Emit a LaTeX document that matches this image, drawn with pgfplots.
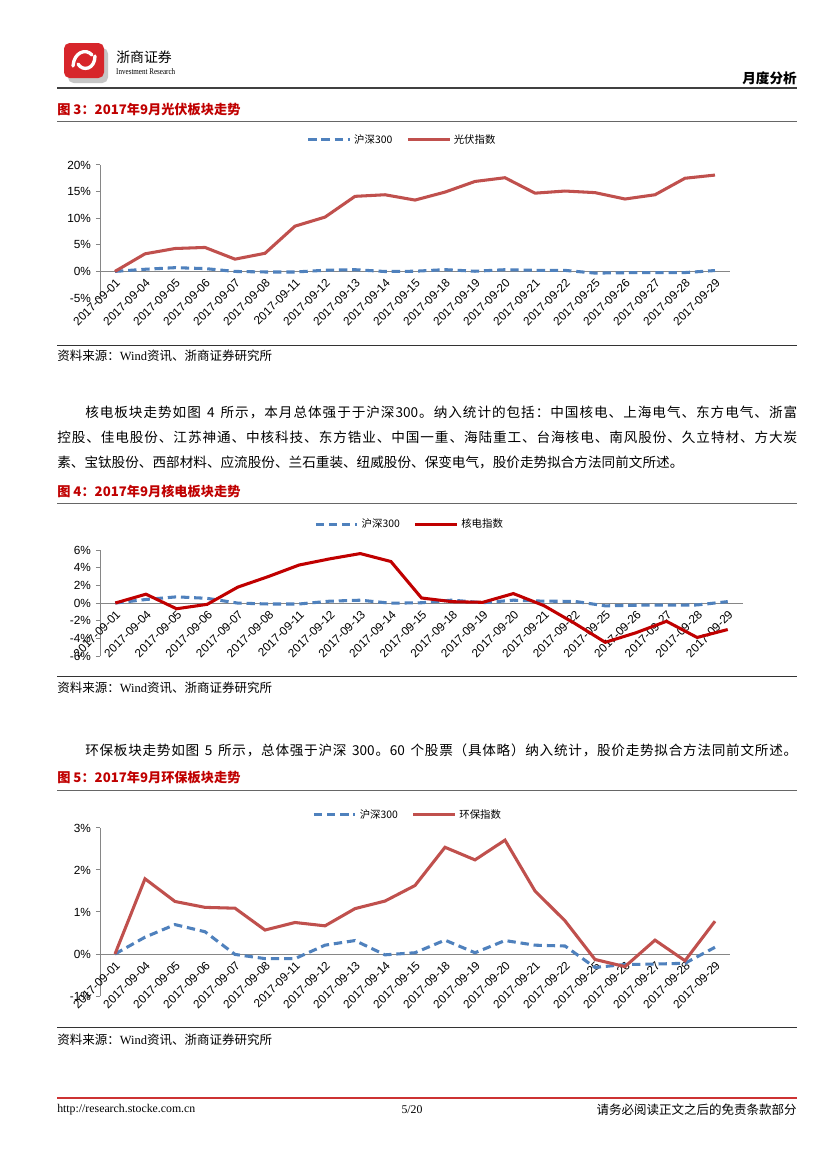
\documentclass[border=0pt]{standalone}
\usepackage{fontspec}
\setmainfont{Noto Sans CJK SC}
\newfontfamily\lsans{Liberation Sans}
\newfontfamily\lserif{Liberation Serif}
\usepackage{pgfplots}
\usepackage{pgfplotstable}
\pgfplotsset{compat=1.18}

\definecolor{hsblue}{HTML}{4F81BD}
\definecolor{hsred}{HTML}{C0504D}
\definecolor{hdred}{HTML}{C00000}
\definecolor{titred}{HTML}{C00000}
\definecolor{axgray}{HTML}{868686}
\definecolor{logored}{HTML}{D7262B}

% spread a line to a given width: glue after every token
\def\spreadloop#1{\ifx\relax#1\else#1\hskip 0pt plus 1pt minus 0.4pt\expandafter\spreadloop\fi}
\newcommand{\jline}[2]{\makebox[#1][s]{\spreadloop#2\relax\unskip}}
\def\sk{\kern3pt}
\def\numA{300}
\def\numB{60}

% 沪深300 / 光伏 / 核电 / 环保, in percent
\pgfplotstableread{
i   hs     gf    hd     hb
0   0      0     0      0
1   0.40   3.3   1.0    1.79
2   0.70   4.3   -0.65  1.25
3   0.53   4.5   -0.15  1.11
4   -0.01  2.3   1.8    1.09
5   -0.11  3.4   3.0    0.57
6   -0.11  8.5   4.3    0.75
7   0.21   10.2  5.0    0.67
8   0.32   14.1  5.6    1.08
9   -0.02  14.4  4.7    1.26
10  0.03   13.4  0.57   1.63
11  0.33   14.9  0.15   2.54
12  0.03   16.9  0.08   2.24
13  0.32   17.6  1.07   2.71
14  0.21   14.7  -0.3   1.50
15  0.19   15.1  -2.3   0.79
16  -0.32  14.8  -4.45  -0.13
17  -0.25  13.6  -3.37  -0.30
18  -0.24  14.4  -2.07  0.33
19  -0.22  17.5  -3.9   -0.16
20  0.16   18.1  -3.0   0.78
}\monthdata

\pgfplotsset{
  zsaxis/.style={
    scale only axis,
    axis x line=middle, axis y line=left,
    axis line style={-, axgray, line width=0.7pt},
    xmin=-0.5, xmax=20.5,
    xtick={0,...,20},
    xticklabels={2017-09-01,2017-09-04,2017-09-05,2017-09-06,2017-09-07,2017-09-08,2017-09-11,2017-09-12,2017-09-13,2017-09-14,2017-09-15,2017-09-18,2017-09-19,2017-09-20,2017-09-21,2017-09-22,2017-09-25,2017-09-26,2017-09-27,2017-09-28,2017-09-29},
    xticklabel style={font=\lsans\fontsize{8.5}{9}\selectfont, rotate=45, anchor=north east, inner sep=1pt},
    yticklabel style={font=\lsans\fontsize{8.5}{9}\selectfont},
    x tick style={draw=none},
    y tick style={axgray, line width=0.7pt},
    tick align=outside,
    major tick length=3pt,
    hide obscured x ticks=false, hide obscured y ticks=false,
    legend columns=2,
    legend cell align=left,
    legend style={draw=none, fill=none, font=\fontsize{7.5}{8}\selectfont,
      /tikz/every even column/.append style={column sep=8pt}},
    legend image code/.code={\draw[##1] (0pt,0pt) -- (30pt,0pt);},
  },
  hsline/.style={hsblue, line width=2.2pt, dash pattern=on 6pt off 3.5pt},
}

\begin{document}
\begin{tikzpicture}
\begin{scope}[x=0.72pt, y=-0.72pt]
\fill[white] (0,0) rectangle (827,1169);
\useasboundingbox (0,0) rectangle (827,1169);

% header
\fill[gray!45, rounded corners=4pt] (68,48) rectangle (108,83);
\fill[logored, rounded corners=4pt] (64,43) rectangle (104,78);
\draw[white, line width=2.4pt, line cap=round] (73,66) .. controls (74,52) and (86,48) .. (92,55);
\draw[white, line width=2.4pt, line cap=round] (95,56) .. controls (95,69) and (83,72) .. (78,64);
\node[anchor=west, inner sep=0, font=\fontsize{10}{10}\selectfont] at (116,57) {浙商证券};
\node[anchor=west, inner sep=0, font=\lserif\fontsize{6.2}{6}\selectfont, xscale=0.82] at (116,72) {Investment Research};
\node[anchor=east, inner sep=0, font=\bfseries\fontsize{9.8}{10}\selectfont] at (797,78) {月度分析};
\draw[black!75, line width=1.4pt] (57,88) -- (797,88);

% figure titles and rules
\node[anchor=west, inner sep=0, text=titred, font=\bfseries\fontsize{9.5}{10}\selectfont] at (57,110) {图 3：2017年9月光伏板块走势};
\draw[black!60, line width=0.7pt] (57,121) -- (797,121);
\draw[black!80, line width=0.7pt] (57,345) -- (797,345);
\node[anchor=west, inner sep=0, font=\fontsize{9}{9}\selectfont] at (57,356) {资料来源：{\lserif Wind}资讯、浙商证券研究所};

% paragraph 1
\node[anchor=west, inner sep=0, font=\fontsize{9.8}{12}\selectfont] at (85,412)
  {\jline{512.6pt}{核电板块走势如图\sk 4\sk 所示，本月总体强于于沪深\numA 。纳入统计的包括：中国核电、上海电气、东方电气、浙富}};
\node[anchor=west, inner sep=0, font=\fontsize{9.8}{12}\selectfont] at (57,437)
  {\jline{532.8pt}{控股、佳电股份、江苏神通、中核科技、东方锆业、中国一重、海陆重工、台海核电、南风股份、久立特材、方大炭}};
\node[anchor=west, inner sep=0, font=\fontsize{9.8}{12}\selectfont] at (57,462)
  {素、宝钛股份、西部材料、应流股份、兰石重装、纽威股份、保变电气，股价走势拟合方法同前文所述。};

\node[anchor=west, inner sep=0, text=titred, font=\bfseries\fontsize{9.5}{10}\selectfont] at (57,491) {图 4：2017年9月核电板块走势};
\draw[black!60, line width=0.7pt] (57,503) -- (797,503);
\draw[black!80, line width=0.7pt] (57,676) -- (797,676);
\node[anchor=west, inner sep=0, font=\fontsize{9}{9}\selectfont] at (57,688) {资料来源：{\lserif Wind}资讯、浙商证券研究所};

% paragraph 2
\node[anchor=west, inner sep=0, font=\fontsize{9.8}{12}\selectfont] at (85,750)
  {\jline{512.6pt}{环保板块走势如图\sk 5\sk 所示，总体强于沪深\sk\numA 。\numB\sk 个股票（具体略）纳入统计，股价走势拟合方法同前文所述。}};

\node[anchor=west, inner sep=0, text=titred, font=\bfseries\fontsize{9.5}{10}\selectfont] at (57,777) {图 5：2017年9月环保板块走势};
\draw[black!60, line width=0.7pt] (57,790) -- (797,790);
\draw[black!80, line width=0.7pt] (57,1027) -- (797,1027);
\node[anchor=west, inner sep=0, font=\fontsize{9}{9}\selectfont] at (57,1040) {资料来源：{\lserif Wind}资讯、浙商证券研究所};

% footer
\draw[hdred!80, line width=0.8pt] (57,1098) -- (797,1098);
\node[anchor=west, inner sep=0, font=\lserif\fontsize{8.5}{9}\selectfont] at (57,1110) {http://research.stocke.com.cn};
\node[inner sep=0, font=\lserif\fontsize{8.5}{9}\selectfont] at (412,1110) {5/20};
\node[anchor=east, inner sep=0, font=\fontsize{9}{9}\selectfont] at (797,1110) {请务必阅读正文之后的免责条款部分};
\end{scope}

% figure 3: 光伏
\begin{axis}[zsaxis,
  at={(72pt,-214.56pt)}, anchor=south west,
  width=453.6pt, height=95.8pt,
  ymin=-5, ymax=20, ytick={-5,0,5,10,15,20},
  yticklabels={-5\%,0\%,5\%,10\%,15\%,20\%},
  legend style={at={(0.5,1)}, anchor=center, xshift=-9pt, yshift=18pt},
]
\addplot[hsline] table[x=i, y=hs] {\monthdata};
\addlegendentry{沪深300}
\addplot[hsred, line width=2.2pt] table[x=i, y=gf] {\monthdata};
\addlegendentry{光伏指数}
\end{axis}

% figure 4: 核电
\begin{axis}[zsaxis,
  at={(72pt,-472.32pt)}, anchor=south west,
  width=463pt, height=76.3pt,
  ymin=-6, ymax=6, ytick={-6,-4,...,6},
  yticklabels={-6\%,-4\%,-2\%,0\%,2\%,4\%,6\%},
  legend style={at={(0.5,1)}, anchor=center, xshift=-8.3pt, yshift=18.7pt},
]
\addplot[hsline] table[x=i, y=hs] {\monthdata};
\addlegendentry{沪深300}
\addplot[hdred, line width=2.2pt] table[x=i, y=hd] {\monthdata};
\addlegendentry{核电指数}
\end{axis}

% figure 5: 环保
\begin{axis}[zsaxis,
  at={(72pt,-717.12pt)}, anchor=south west,
  width=453.6pt, height=121pt,
  ymin=-1, ymax=3, ytick={-1,0,1,2,3},
  yticklabels={-1\%,0\%,1\%,2\%,3\%},
  legend style={at={(0.5,1)}, anchor=center, xshift=-5pt, yshift=9.4pt},
]
\addplot[hsline] table[x=i, y=hs] {\monthdata};
\addlegendentry{沪深300}
\addplot[hsred, line width=2.2pt] table[x=i, y=hb] {\monthdata};
\addlegendentry{环保指数}
\end{axis}
\end{tikzpicture}
\end{document}
